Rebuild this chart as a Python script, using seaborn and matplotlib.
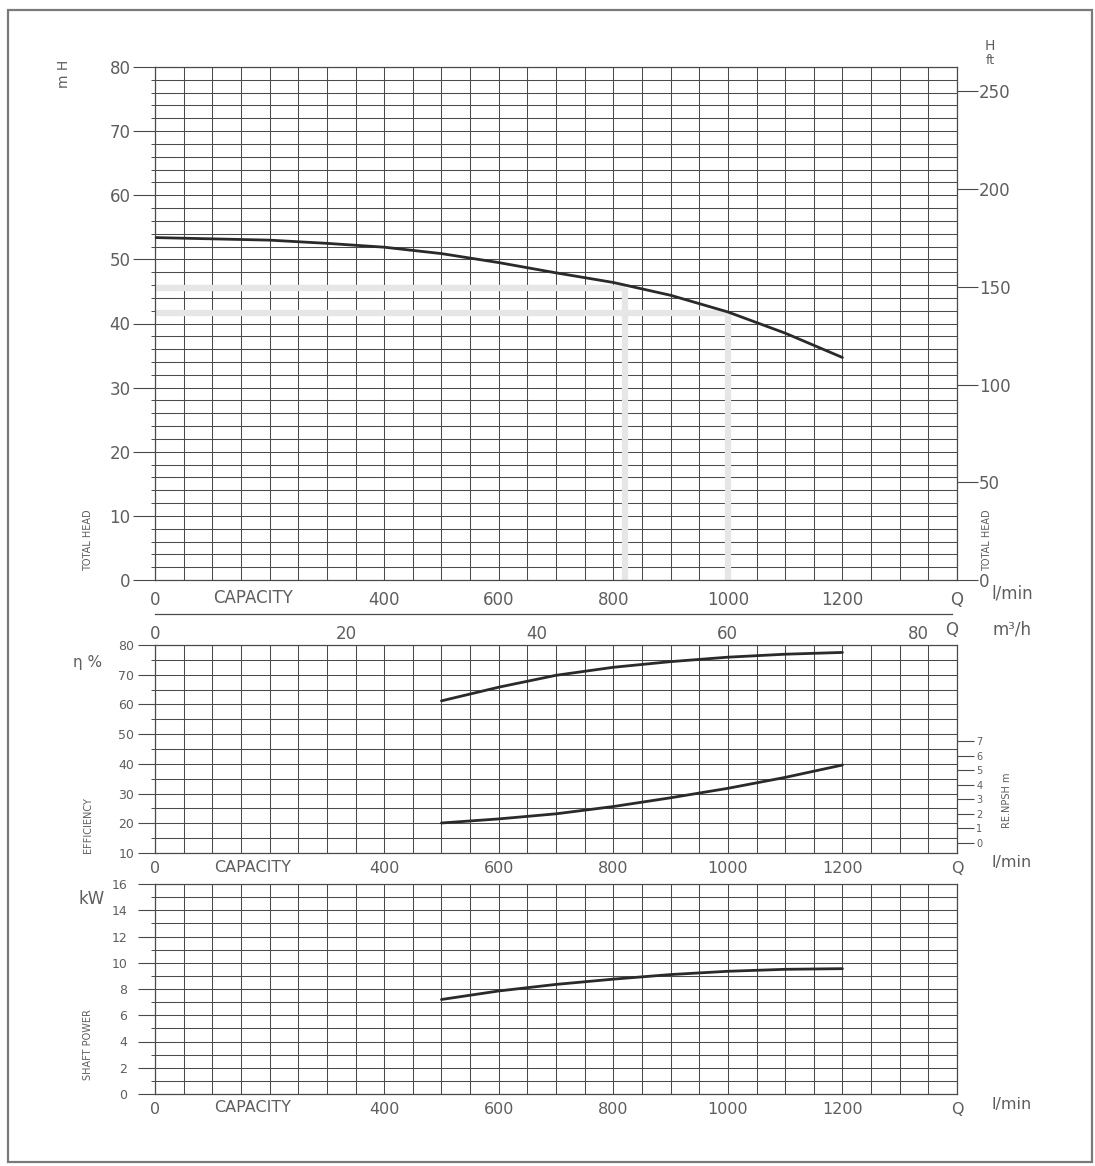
import numpy as np
import matplotlib
matplotlib.use("Agg")
import matplotlib.pyplot as plt
import matplotlib.patches as mpatches
import seaborn as sns

# ---------------- data ----------------
head_q = [0, 100, 200, 300, 400, 500, 600, 700, 800, 900, 1000, 1100, 1200]
head_m = [53.4, 53.2, 53.0, 52.5, 51.9, 50.9, 49.5, 47.9, 46.4, 44.4, 41.8, 38.5, 34.7]
duty_q = [820, 1000]
duty_h = [45.6, 41.7]

eff_q = [500, 600, 700, 800, 900, 1000, 1100, 1200]
eff_pct = [61.2, 65.8, 69.8, 72.5, 74.4, 75.9, 76.9, 77.5]
npsh_m = [1.37, 1.65, 2.0, 2.5, 3.1, 3.75, 4.5, 5.35]
power_kw = [7.2, 7.85, 8.35, 8.75, 9.1, 9.35, 9.5, 9.55]

q_tick_pos = [0, 400, 600, 800, 1000, 1200, 1400]
q_tick_labels = ["0", "400", "600", "800", "1000", "1200", "Q"]
m3h_ticks = [0, 20, 40, 60, 80]
m3h_labels = ["0", "20", "40", "60", "80"]
head_ticks = [0, 10, 20, 30, 40, 50, 60, 70, 80]
ft_ticks = [0, 50, 100, 150, 200, 250]
eff_ticks = [10, 20, 30, 40, 50, 60, 70, 80]
npsh_ticks = [0, 1, 2, 3, 4, 5, 6, 7]
kw_ticks = [0, 2, 4, 6, 8, 10, 12, 14, 16]

# ---------------- style ----------------
sns.set_theme(style="white")
plt.rcParams["font.family"] = ["DejaVu Sans"]
TXT = "#5e5e5e"
GRID = "#4a4a4a"
CURVE = "#2a2a2a"

W, H = 1095, 1166
fig = plt.figure(figsize=(W / 100, H / 100), dpi=100)
fig.patch.set_facecolor("white")


def rect(l, t, r, b):
    return [l / W, 1 - b / H, (r - l) / W, (b - t) / H]


def ftext(x, y, s, **kw):
    kw.setdefault("color", TXT)
    kw.setdefault("ha", "center")
    kw.setdefault("va", "center")
    fig.text(x / W, 1 - y / H, s, **kw)


def style_grid(ax, ymin, ymax, ystep_minor, yticks, ysize, ylen, ypad, xsize, xpad):
    ax.set_xlim(0, 1400)
    ax.set_ylim(ymin, ymax)
    ax.set_xticks(np.arange(0, 1401, 50), minor=True)
    ax.set_xticks(q_tick_pos, q_tick_labels)
    ax.set_yticks(np.arange(ymin, ymax + 0.001, ystep_minor), minor=True)
    ax.set_yticks(yticks, [str(t) for t in yticks])
    ax.grid(which="both", axis="both", color=GRID, lw=0.75)
    ax.set_axisbelow(True)
    ax.tick_params(axis="x", which="both", length=0, pad=xpad, labelsize=xsize, labelcolor=TXT)
    ax.tick_params(axis="y", which="major", length=ylen, width=0.8, color=GRID,
                   pad=ypad, labelsize=ysize, labelcolor=TXT, left=True)
    ax.tick_params(axis="y", which="minor", length=3, width=0.7, color=GRID, left=True)
    for s in ax.spines.values():
        s.set_color(GRID)
        s.set_linewidth(0.9)
    ax.set_xlabel("")
    ax.set_ylabel("")


# ---------------- top panel : head ----------------
ax1 = fig.add_axes(rect(155, 67, 957, 580))
style_grid(ax1, 0, 80, 2, head_ticks, 12, 16, 1.5, 12, 8)
for q, h in zip(duty_q, duty_h):
    ax1.plot([0, q], [h, h], color="#e6e6e6", lw=4.5, solid_capstyle="butt", zorder=2)
    ax1.plot([q, q], [0, h], color="#e6e6e6", lw=4.5, solid_capstyle="butt", zorder=2)
sns.lineplot(x=head_q, y=head_m, ax=ax1, color=CURVE, lw=2.0, zorder=3)
ax1.set_xlabel("")
ax1.set_ylabel("")

axr = ax1.twinx()
axr.set_ylim(0, 80 * 3.28084)
axr.set_yticks(ft_ticks, [str(t) for t in ft_ticks])
axr.tick_params(axis="y", length=15, width=0.8, color=GRID, pad=1, labelsize=12,
                labelcolor=TXT, right=True)
axr.grid(False)
for s in axr.spines.values():
    s.set_visible(False)

# m3/h secondary scale
axm = fig.add_axes(rect(155, 600, 957, 614))
axm.patch.set_visible(False)
axm.set_xlim(0, 1400 * 0.06)
axm.set_ylim(0, 1)
axm.set_yticks([])
axm.set_xticks(m3h_ticks, m3h_labels)
for k, s in axm.spines.items():
    s.set_visible(k == "bottom")
axm.spines["bottom"].set_color(GRID)
axm.spines["bottom"].set_linewidth(0.9)
axm.spines["bottom"].set_bounds(0, 83.5)
axm.tick_params(axis="x", length=5, width=0.8, color=GRID, pad=3, labelsize=12, labelcolor=TXT)
axm.grid(False)

# ---------------- middle panel : efficiency & NPSH ----------------
ax2 = fig.add_axes(rect(155, 645, 957, 853))
style_grid(ax2, 10, 80, 5, eff_ticks, 9, 12, 3, 11.5, 6)
sns.lineplot(x=eff_q, y=eff_pct, ax=ax2, color=CURVE, lw=2.0, zorder=3)
ax2.set_xlabel("")
ax2.set_ylabel("")

axn = ax2.twinx()
axn.set_ylim(-0.69, 13.59)
axn.set_yticks(npsh_ticks, [str(t) for t in npsh_ticks])
axn.tick_params(axis="y", length=12, width=0.8, color=GRID, pad=2, labelsize=7,
                labelcolor=TXT, right=True)
axn.grid(False)
for s in axn.spines.values():
    s.set_visible(False)
sns.lineplot(x=eff_q, y=npsh_m, ax=axn, color=CURVE, lw=2.0, zorder=3)
axn.set_xlabel("")
axn.set_ylabel("")

# ---------------- bottom panel : shaft power ----------------
ax3 = fig.add_axes(rect(155, 884, 957, 1094))
style_grid(ax3, 0, 16, 1, kw_ticks, 9, 12, 8, 11.5, 6)
sns.lineplot(x=eff_q, y=power_kw, ax=ax3, color=CURVE, lw=2.0, zorder=3)
ax3.set_xlabel("")
ax3.set_ylabel("")

# ---------------- free texts ----------------
ftext(990, 46, "H", fontsize=10)
ftext(990, 60, "ft", fontsize=9)
ftext(64, 74, "m H", fontsize=10, rotation=90)
ftext(88, 540, "TOTAL HEAD", fontsize=7, rotation=90)
ftext(987, 540, "TOTAL HEAD", fontsize=7, rotation=90)
ftext(253, 598, "CAPACITY", fontsize=12)
ftext(1012, 593, "l/min", fontsize=12)
ftext(952, 630, "Q", fontsize=12)
ftext(1012, 630, "m³/h", fontsize=12)

ftext(88, 662, "η %", fontsize=11)
ftext(88, 825, "EFFICIENCY", fontsize=7, rotation=90)
ftext(1007, 800, "RE.NPSH m", fontsize=7, rotation=90)
ftext(253, 868, "CAPACITY", fontsize=11.5)
ftext(1012, 862, "l/min", fontsize=11.5)

ftext(92, 899, "kW", fontsize=12)
ftext(88, 1045, "SHAFT POWER", fontsize=7, rotation=90)
ftext(253, 1108, "CAPACITY", fontsize=11.5)
ftext(1012, 1105, "l/min", fontsize=11.5)

# outer frame
fig.patches.append(mpatches.Rectangle((8 / W, 1 - 1162 / H), (1092 - 8) / W, (1162 - 10) / H,
                                      transform=fig.transFigure, fill=False,
                                      edgecolor="#7a7a7a", lw=1.6))

fig.savefig("out.png", dpi=100, facecolor="white")
